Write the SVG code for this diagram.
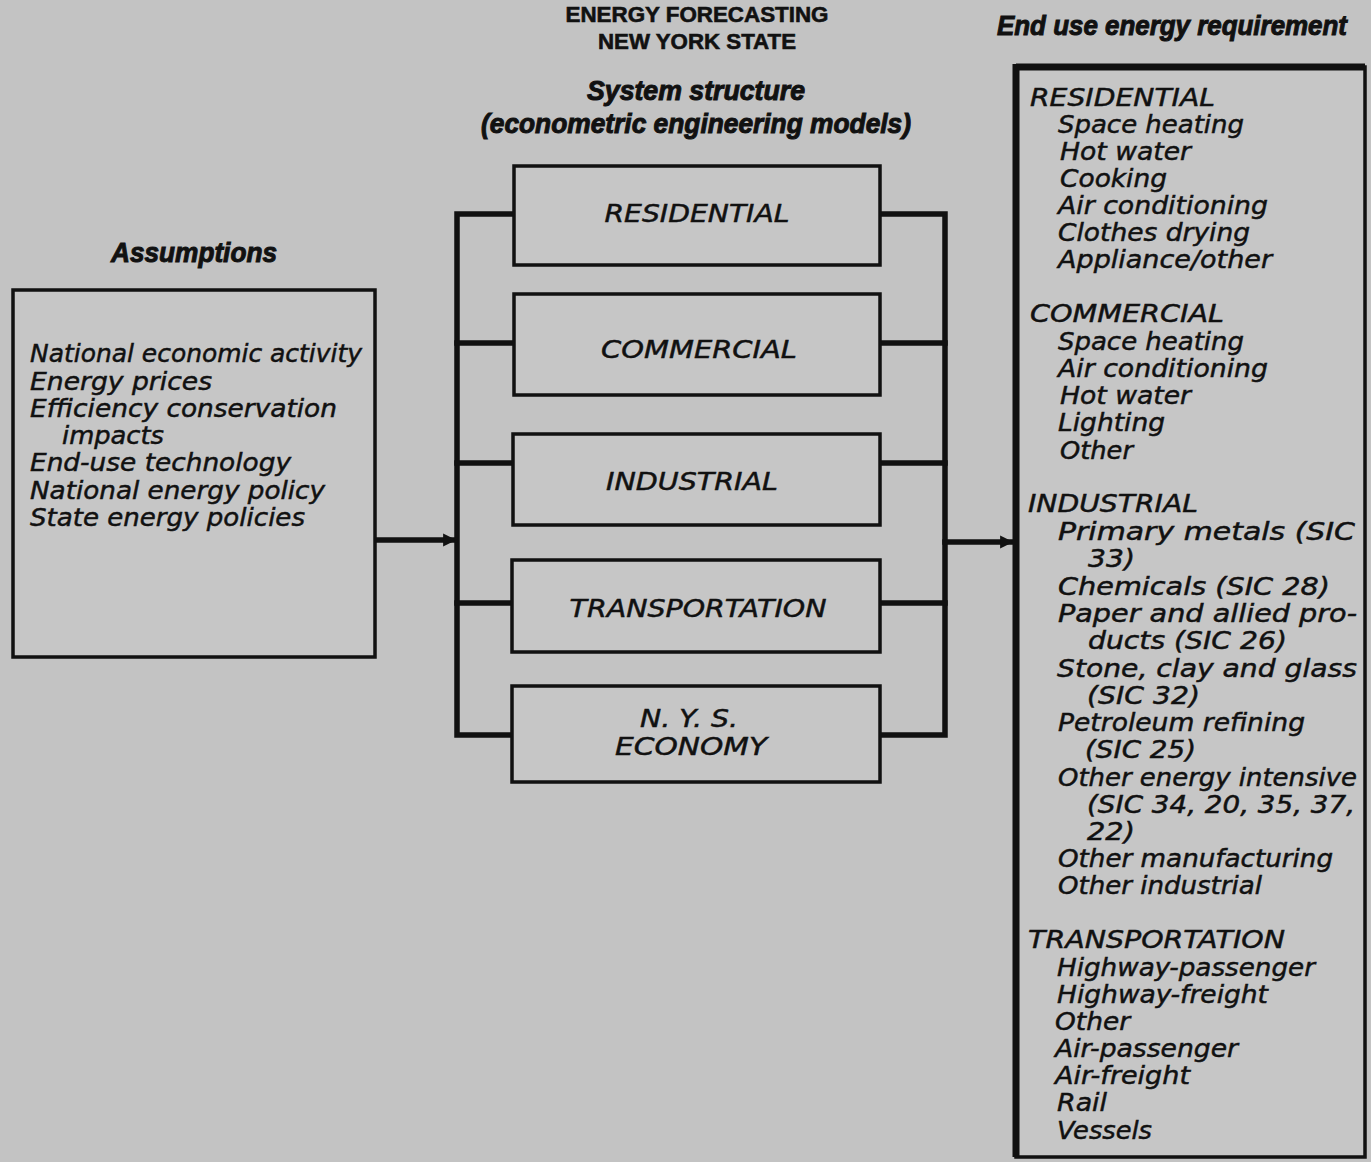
<svg xmlns="http://www.w3.org/2000/svg" width="1371" height="1162" viewBox="0 0 1371 1162">
<defs>
<style>
.bg{fill:#c3c3c3}
.box{fill:#c6c6c6;stroke:#111;stroke-width:3.5}
.wire{fill:none;stroke:#111;stroke-width:5.5;stroke-linecap:square;stroke-linejoin:miter}
.t{font-family:"DejaVu Sans",sans-serif;font-style:italic;font-size:25px;fill:#111;stroke:#111;stroke-width:0.5}
.c{text-anchor:middle}
.h{font-family:"Liberation Sans",sans-serif;font-weight:bold;font-size:22px;fill:#111;stroke:#111;stroke-width:0.6;text-anchor:middle}
.hi{font-family:"Liberation Sans",sans-serif;font-weight:bold;font-style:italic;font-size:28px;fill:#111;stroke:#111;stroke-width:1;text-anchor:middle}
</style>
<marker id="ah" viewBox="0 0 10 10" refX="9" refY="5" markerWidth="3" markerHeight="2.4" markerUnits="strokeWidth" orient="auto">
<path d="M0,0 L10,5 L0,10 z" fill="#111"/>
</marker>
</defs>
<rect class="bg" x="0" y="0" width="1371" height="1162"/>

<g id="titles">
<text class="h" x="697" y="22" textLength="263" lengthAdjust="spacingAndGlyphs">ENERGY FORECASTING</text>
<text class="h" x="697" y="49" textLength="198" lengthAdjust="spacingAndGlyphs">NEW YORK STATE</text>
<text class="hi" x="696" y="100" textLength="218" lengthAdjust="spacingAndGlyphs">System structure</text>
<text class="hi" x="696" y="133" textLength="430" lengthAdjust="spacingAndGlyphs">(econometric engineering models)</text>
<text class="hi" x="194" y="262" textLength="166" lengthAdjust="spacingAndGlyphs">Assumptions</text>
<text class="hi" x="1172" y="35" font-size="26" textLength="350" lengthAdjust="spacingAndGlyphs">End use energy requirement</text>
</g>

<g id="connectors">
<path class="wire" d="M514,214 H457 V735 H512"/>
<path class="wire" d="M457,343 H514 M457,463 H513 M457,603 H512"/>
<path class="wire" d="M880,214 H945 V735 H880"/>
<path class="wire" d="M880,343 H945 M880,463 H945 M880,603 H945"/>
<line class="wire" x1="376" y1="540" x2="455" y2="540" marker-end="url(#ah)"/>
<line class="wire" x1="945" y1="542" x2="1012" y2="542" marker-end="url(#ah)"/>
</g>

<g id="assumptions">
<rect class="box" x="13" y="290" width="362" height="367"/>
<text class="t" x="30" y="362" textLength="332" lengthAdjust="spacingAndGlyphs">National economic activity</text>
<text class="t" x="30" y="390" textLength="182" lengthAdjust="spacingAndGlyphs">Energy prices</text>
<text class="t" x="30" y="417" textLength="307" lengthAdjust="spacingAndGlyphs">Efficiency conservation</text>
<text class="t" x="62" y="444" textLength="102" lengthAdjust="spacingAndGlyphs">impacts</text>
<text class="t" x="30" y="471" textLength="261" lengthAdjust="spacingAndGlyphs">End-use technology</text>
<text class="t" x="30" y="499" textLength="295" lengthAdjust="spacingAndGlyphs">National energy policy</text>
<text class="t" x="30" y="526" textLength="275" lengthAdjust="spacingAndGlyphs">State energy policies</text>
</g>

<g id="residential">
<rect class="box" x="514" y="166" width="366" height="99"/>
<text class="t c" x="697" y="222" textLength="185" lengthAdjust="spacingAndGlyphs">RESIDENTIAL</text>
</g>
<g id="commercial">
<rect class="box" x="514" y="294" width="366" height="101"/>
<text class="t c" x="699" y="358" textLength="196" lengthAdjust="spacingAndGlyphs">COMMERCIAL</text>
</g>
<g id="industrial">
<rect class="box" x="513" y="434" width="367" height="91"/>
<text class="t c" x="692" y="490" textLength="172" lengthAdjust="spacingAndGlyphs">INDUSTRIAL</text>
</g>
<g id="transportation">
<rect class="box" x="512" y="560" width="368" height="92"/>
<text class="t c" x="698" y="617" textLength="257" lengthAdjust="spacingAndGlyphs">TRANSPORTATION</text>
</g>
<g id="nys-economy">
<rect class="box" x="512" y="686" width="368" height="96"/>
<text class="t c" x="689" y="727" textLength="98" lengthAdjust="spacingAndGlyphs">N. Y. S.</text>
<text class="t c" x="691" y="755" textLength="152" lengthAdjust="spacingAndGlyphs">ECONOMY</text>
</g>

<g id="end-use">
<rect class="box" x="1016" y="67" width="349" height="1090"/>
<path d="M1016,67 H1365 M1016,64 V1157" fill="none" stroke="#111" stroke-width="7"/>
<text class="t" x="1030" y="106" textLength="185" lengthAdjust="spacingAndGlyphs">RESIDENTIAL</text>
<text class="t" x="1058" y="133" textLength="186" lengthAdjust="spacingAndGlyphs">Space heating</text>
<text class="t" x="1060" y="160" textLength="131" lengthAdjust="spacingAndGlyphs">Hot water</text>
<text class="t" x="1060" y="187" textLength="107" lengthAdjust="spacingAndGlyphs">Cooking</text>
<text class="t" x="1058" y="214" textLength="210" lengthAdjust="spacingAndGlyphs">Air conditioning</text>
<text class="t" x="1058" y="241" textLength="192" lengthAdjust="spacingAndGlyphs">Clothes drying</text>
<text class="t" x="1058" y="268" textLength="214" lengthAdjust="spacingAndGlyphs">Appliance/other</text>

<text class="t" x="1030" y="322" textLength="194" lengthAdjust="spacingAndGlyphs">COMMERCIAL</text>
<text class="t" x="1058" y="350" textLength="186" lengthAdjust="spacingAndGlyphs">Space heating</text>
<text class="t" x="1058" y="377" textLength="210" lengthAdjust="spacingAndGlyphs">Air conditioning</text>
<text class="t" x="1060" y="404" textLength="131" lengthAdjust="spacingAndGlyphs">Hot water</text>
<text class="t" x="1058" y="431" textLength="107" lengthAdjust="spacingAndGlyphs">Lighting</text>
<text class="t" x="1060" y="459" textLength="73" lengthAdjust="spacingAndGlyphs">Other</text>

<text class="t" x="1028" y="512" textLength="170" lengthAdjust="spacingAndGlyphs">INDUSTRIAL</text>
<text class="t" x="1058" y="540" textLength="297" lengthAdjust="spacingAndGlyphs">Primary metals (SIC</text>
<text class="t" x="1088" y="567" textLength="47" lengthAdjust="spacingAndGlyphs">33)</text>
<text class="t" x="1058" y="595" textLength="272" lengthAdjust="spacingAndGlyphs">Chemicals (SIC 28)</text>
<text class="t" x="1058" y="622" textLength="299" lengthAdjust="spacingAndGlyphs">Paper and allied pro-</text>
<text class="t" x="1088" y="649" textLength="199" lengthAdjust="spacingAndGlyphs">ducts (SIC 26)</text>
<text class="t" x="1057" y="677" textLength="300" lengthAdjust="spacingAndGlyphs">Stone, clay and glass</text>
<text class="t" x="1087" y="704" textLength="113" lengthAdjust="spacingAndGlyphs">(SIC 32)</text>
<text class="t" x="1058" y="731" textLength="247" lengthAdjust="spacingAndGlyphs">Petroleum refining</text>
<text class="t" x="1085" y="758" textLength="111" lengthAdjust="spacingAndGlyphs">(SIC 25)</text>
<text class="t" x="1058" y="786" textLength="299" lengthAdjust="spacingAndGlyphs">Other energy intensive</text>
<text class="t" x="1087" y="813" textLength="268" lengthAdjust="spacingAndGlyphs">(SIC 34, 20, 35, 37,</text>
<text class="t" x="1087" y="840" textLength="48" lengthAdjust="spacingAndGlyphs">22)</text>
<text class="t" x="1058" y="867" textLength="275" lengthAdjust="spacingAndGlyphs">Other manufacturing</text>
<text class="t" x="1058" y="894" textLength="204" lengthAdjust="spacingAndGlyphs">Other industrial</text>

<text class="t" x="1028" y="948" textLength="257" lengthAdjust="spacingAndGlyphs">TRANSPORTATION</text>
<text class="t" x="1057" y="976" textLength="258" lengthAdjust="spacingAndGlyphs">Highway-passenger</text>
<text class="t" x="1057" y="1003" textLength="211" lengthAdjust="spacingAndGlyphs">Highway-freight</text>
<text class="t" x="1055" y="1030" textLength="75" lengthAdjust="spacingAndGlyphs">Other</text>
<text class="t" x="1055" y="1057" textLength="183" lengthAdjust="spacingAndGlyphs">Air-passenger</text>
<text class="t" x="1055" y="1084" textLength="135" lengthAdjust="spacingAndGlyphs">Air-freight</text>
<text class="t" x="1057" y="1111" textLength="50" lengthAdjust="spacingAndGlyphs">Rail</text>
<text class="t" x="1057" y="1139" textLength="95" lengthAdjust="spacingAndGlyphs">Vessels</text>
</g>
</svg>
